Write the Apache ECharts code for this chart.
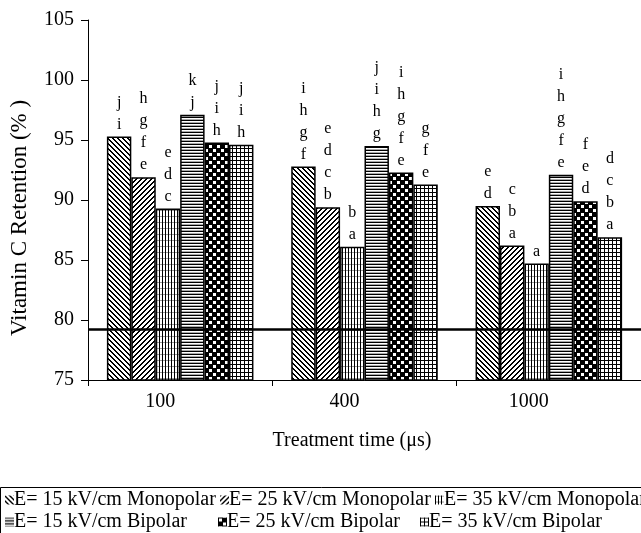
<!DOCTYPE html>
<html><head><meta charset="utf-8">
<script src="https://cdn.jsdelivr.net/npm/echarts@6/dist/echarts.min.js"></script>
<style>html,body{margin:0;padding:0;background:#fff}#c{width:641px;height:533px}</style>
</head><body><div id="c"></div>
<script>
// ---------- data ----------
const categories = ['100', '400', '1000'];
const seriesNames = ['E= 15 kV/cm Monopolar', 'E= 25 kV/cm Monopolar', 'E= 35 kV/cm Monopolar',
                     'E= 15 kV/cm Bipolar', 'E= 25 kV/cm Bipolar', 'E= 35 kV/cm Bipolar'];
const mono15 = [95.3, 92.8, 89.5];
const mono25 = [91.9, 89.4, 86.2];
const mono35 = [89.3, 86.1, 84.7];
const bi15   = [97.1, 94.5, 92.1];
const bi25   = [94.8, 92.3, 89.9];
const bi35   = [94.6, 91.3, 86.9];
const mono15Letters = ['j\ni', 'i\nh\ng\nf', 'e\nd'];
const mono25Letters = ['h\ng\nf\ne', 'e\nd\nc\nb', 'c\nb\na'];
const mono35Letters = ['e\nd\nc', 'b\na', 'a'];
const bi15Letters   = ['k\nj', 'j\ni\nh\ng', 'i\nh\ng\nf\ne'];
const bi25Letters   = ['j\ni\nh', 'i\nh\ng\nf\ne', 'f\ne\nd'];
const bi35Letters   = ['j\ni\nh', 'g\nf\ne', 'd\nc\nb\na'];
const referenceLine = 79.2;
const yMin = 75, yMax = 105, yInterval = 5;
const xTitle = 'Treatment time (μs)';
const yTitle = 'Vitamin C Retention (% )';

// ---------- patterns ----------
function makePattern(w, h, painter) {
  const c = document.createElement('canvas');
  c.width = w; c.height = h;
  const ctx = c.getContext('2d');
  ctx.fillStyle = '#fff'; ctx.fillRect(0, 0, w, h);
  painter(ctx, w, h);
  return { image: c, repeat: 'repeat' };
}
const patterns = [
  makePattern(5, 5, (ctx) => { ctx.fillStyle = '#000'; for (let i = 0; i < 5; i++) { ctx.fillRect(i, i, 1, 1); ctx.fillRect(i, (i + 1) % 5, 1, 1); } }),
  makePattern(5, 5, (ctx) => { ctx.fillStyle = '#000'; for (let i = 0; i < 5; i++) { ctx.fillRect(i, 4 - i, 1, 1); ctx.fillRect(i, (5 - i) % 5, 1, 1); } }),
  makePattern(3, 6, (ctx) => { ctx.fillStyle = '#999'; ctx.fillRect(0, 0, 3, 1); ctx.fillStyle = '#000'; ctx.fillRect(0, 0, 1, 6); }),
  makePattern(6, 3, (ctx) => { ctx.fillStyle = '#000'; ctx.fillRect(0, 0, 6, 1); ctx.fillStyle = '#aaa'; ctx.fillRect(0, 2, 6, 1); }),
  makePattern(8, 8, (ctx) => { ctx.fillStyle = '#000'; ctx.fillRect(0, 0, 8, 8); ctx.fillStyle = '#fff'; ctx.fillRect(1, 1, 3, 3); ctx.fillRect(5, 5, 3, 3); }),
  makePattern(4, 4, (ctx) => { ctx.fillStyle = '#000'; ctx.fillRect(0, 0, 4, 1); ctx.fillRect(0, 0, 1, 4); })
];

const FONT = '"Liberation Serif", "Times New Roman", serif';

function barSeries(i, data, letters) {
  return {
    name: seriesNames[i], type: 'bar', data: data,
    barGap: '0%', barCategoryGap: '20.5%',
    itemStyle: { color: patterns[i], borderColor: '#000', borderWidth: 1.5 },
    label: {
      show: true, position: 'top', distance: 1, color: '#000',
      fontFamily: FONT, fontSize: 16, lineHeight: 22,
      formatter: (p) => letters[p.dataIndex]
    },
    emphasis: { disabled: true },
    animation: false
  };
}

const series = [
  barSeries(0, mono15, mono15Letters),
  barSeries(1, mono25, mono25Letters),
  barSeries(2, mono35, mono35Letters),
  barSeries(3, bi15, bi15Letters),
  barSeries(4, bi25, bi25Letters),
  barSeries(5, bi35, bi35Letters)
];
series[5].markLine = {
  silent: true, symbol: 'none', animation: false,
  lineStyle: { color: '#000', width: 2.5, type: 'solid' },
  label: { show: false },
  data: [{ yAxis: referenceLine }]
};

const legendPos = [[5, 490], [220, 490], [435, 490], [5, 512], [218, 512], [420, 512]];
const legends = seriesNames.map((n, i) => ({
  data: [n], left: legendPos[i][0], top: legendPos[i][1], padding: 0,
  itemWidth: 9, itemHeight: 9, icon: 'rect', selectedMode: false,
  itemStyle: { borderWidth: 0 },
  textStyle: { fontFamily: FONT, fontSize: 20, color: '#000', padding: [0, 0, 0, -5] }
}));

const chart = echarts.init(document.getElementById('c'), null, { renderer: 'canvas' });
chart.setOption({
  animation: false,
  backgroundColor: '#fff',
  grid: { left: 88, top: 20, width: 555, height: 360 },
  xAxis: {
    type: 'category', data: categories,
    axisLine: { lineStyle: { color: '#000', width: 1 } },
    axisTick: { show: true, length: 6, lineStyle: { color: '#000' } },
    axisLabel: { color: '#000', fontFamily: FONT, fontSize: 20, margin: 12, padding: [0, 40, 0, 0] }
  },
  yAxis: {
    type: 'value', min: yMin, max: yMax, interval: yInterval,
    splitLine: { show: false },
    axisLine: { show: true, lineStyle: { color: '#000', width: 1 } },
    axisTick: { show: true, length: 7, lineStyle: { color: '#000' } },
    axisLabel: { color: '#000', fontFamily: FONT, fontSize: 20, margin: 14 }
  },
  legend: legends,
  graphic: [
    { type: 'rect', silent: true, shape: { x: 0.5, y: 487.5, width: 700, height: 80 },
      style: { fill: 'none', stroke: '#000', lineWidth: 1 } },
    { type: 'text', silent: true, x: 352, y: 441,
      style: { text: xTitle, font: '20px ' + FONT, fill: '#000', textAlign: 'center', textVerticalAlign: 'middle', align: 'center', verticalAlign: 'middle' } },
    { type: 'text', silent: true, x: 20, y: 218, rotation: Math.PI / 2,
      style: { text: yTitle, font: '23px ' + FONT, fill: '#000', textAlign: 'center', textVerticalAlign: 'middle', align: 'center', verticalAlign: 'middle' } }
  ],
  series: series
});
</script>
</body></html>
